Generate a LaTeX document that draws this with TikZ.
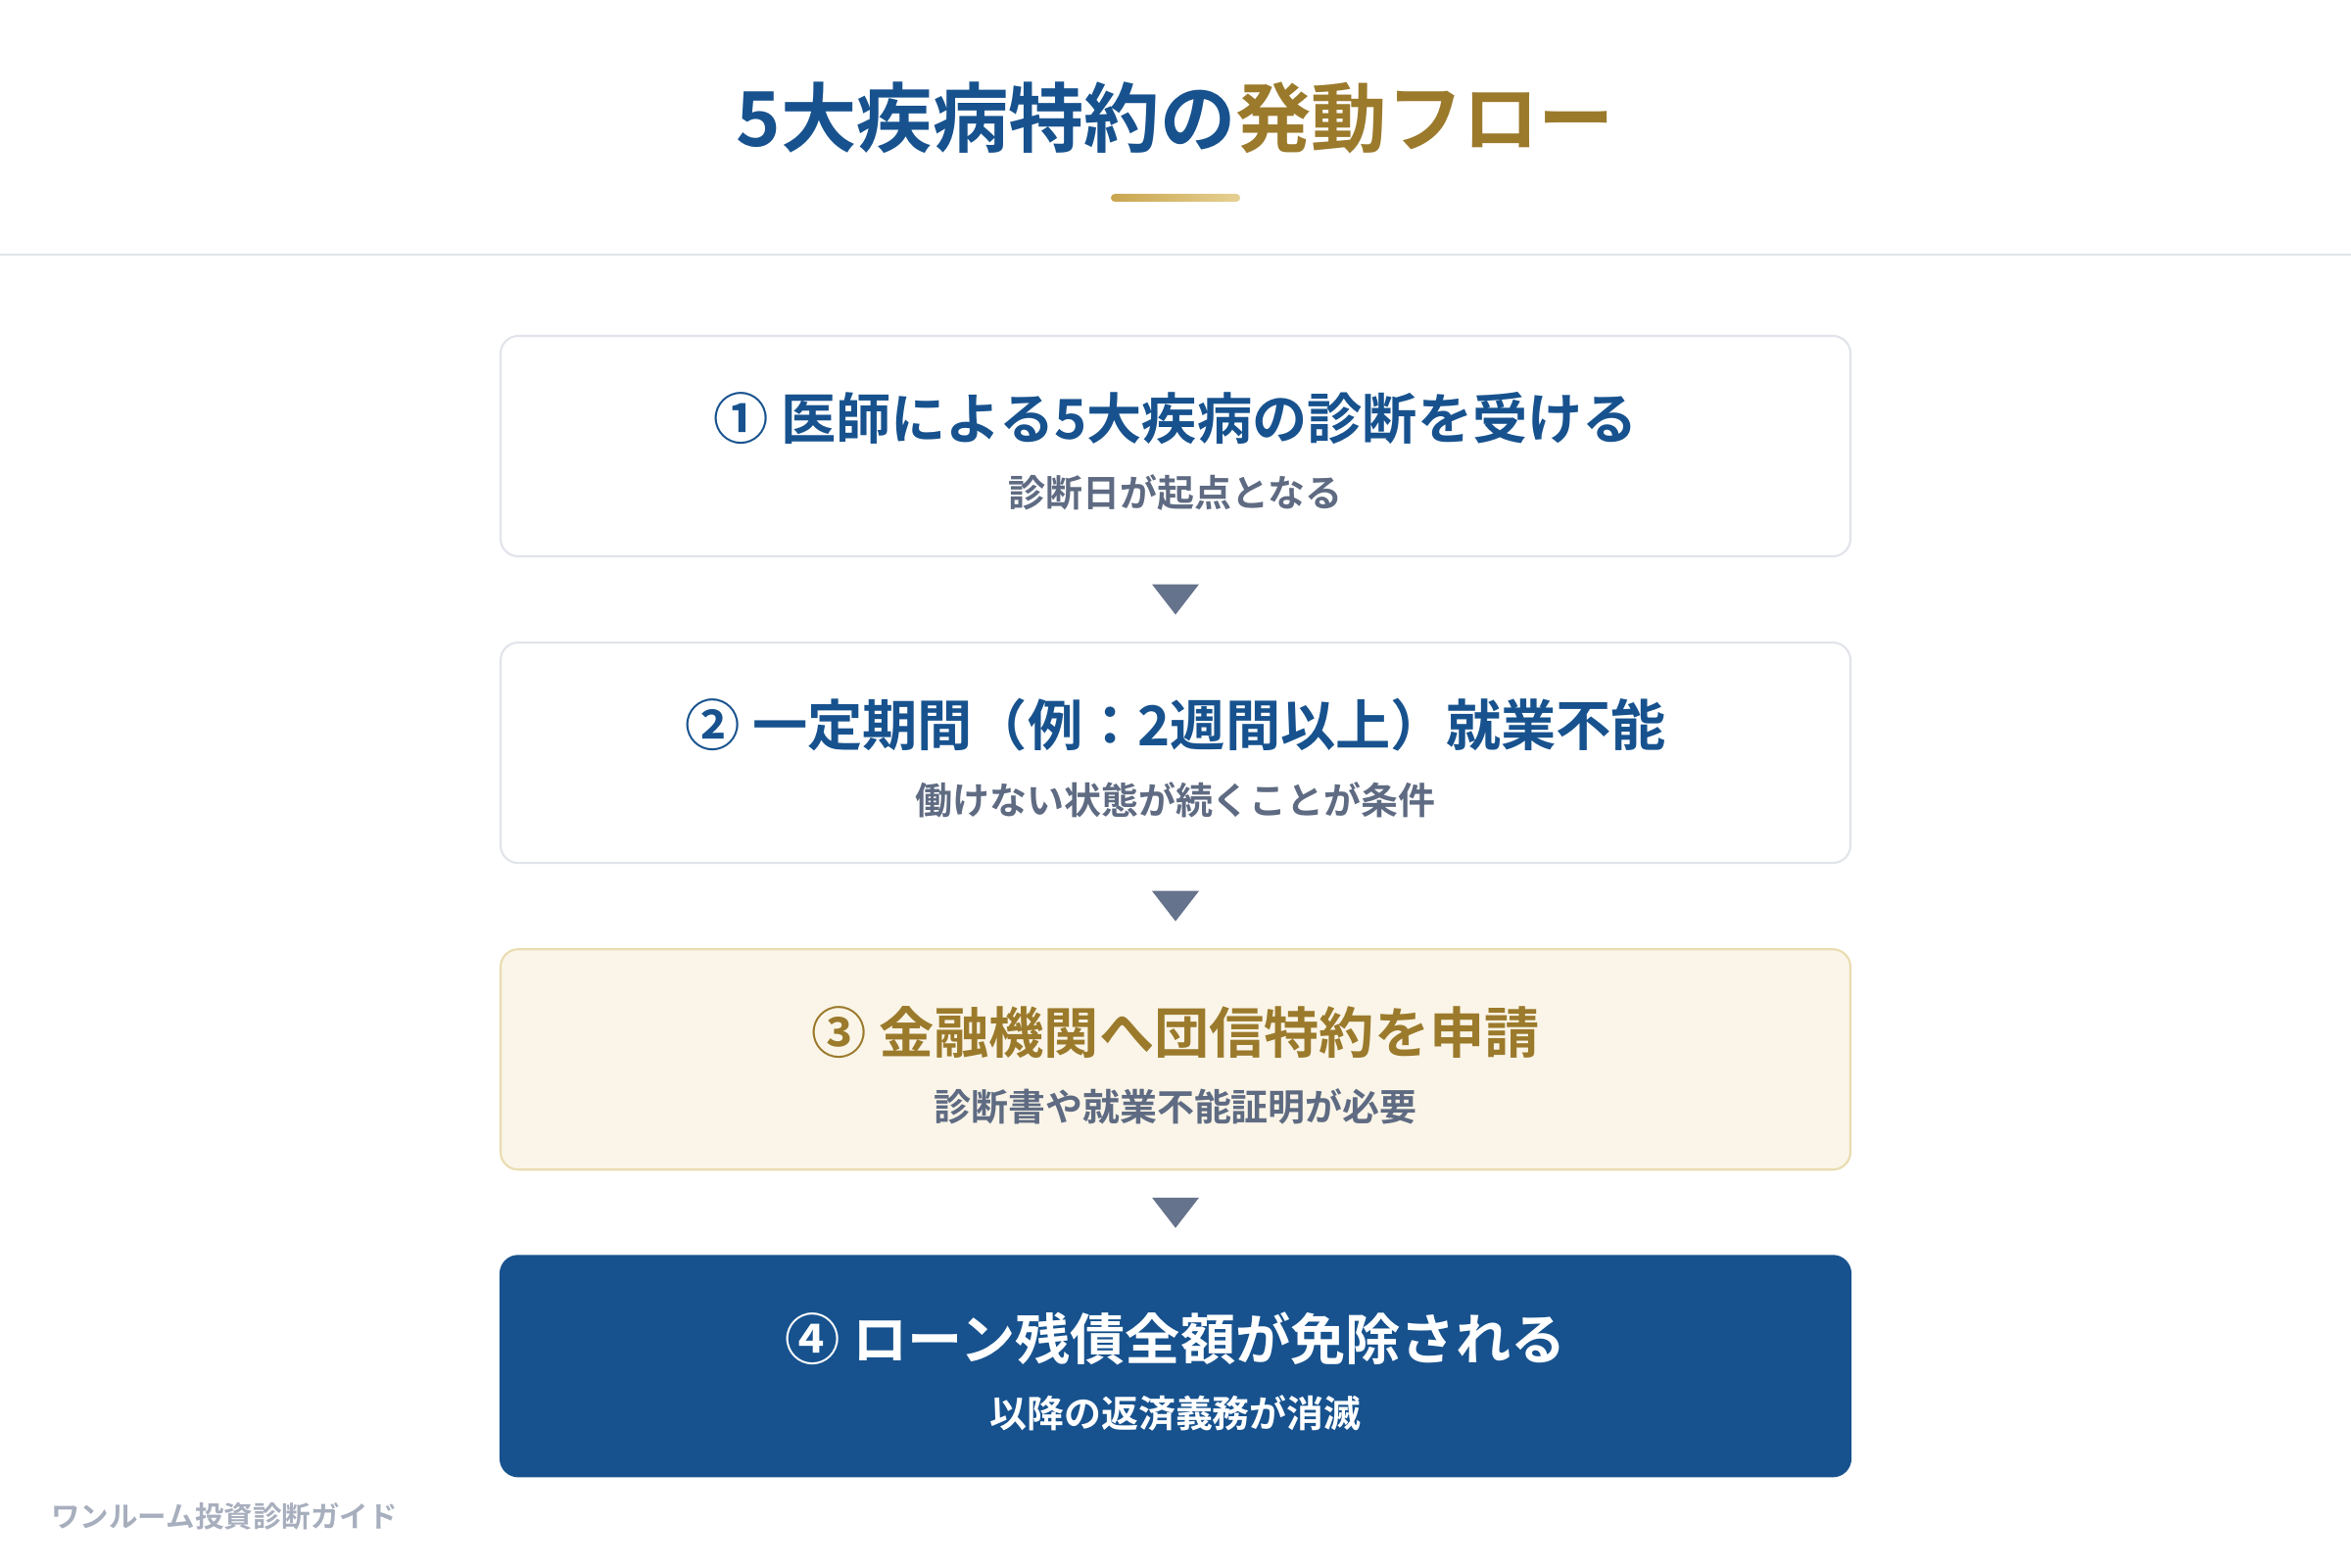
\documentclass[tikz,border=0pt]{standalone}
\usepackage{fontspec}
\setmainfont{Noto Sans CJK JP}[BoldFont={Noto Sans CJK JP Bold}]
\usetikzlibrary{positioning,calc}

\definecolor{navy}{HTML}{17528E}
\definecolor{gold}{HTML}{9B7A2C}
\definecolor{goldA}{HTML}{C9A64F}
\definecolor{goldB}{HTML}{E6D092}
\definecolor{subgray}{HTML}{5F6B82}
\definecolor{arrowgray}{HTML}{66738C}
\definecolor{boxline}{HTML}{E1E4EA}
\definecolor{cream}{HTML}{FAF5E8}
\definecolor{creamline}{HTML}{E9DCB0}
\definecolor{footgray}{HTML}{A7AEBD}

\begin{document}
\begin{tikzpicture}[
  box/.style={draw=boxline, line width=0.6pt, fill=white, rounded corners=0.18cm,
    minimum width=13.78cm, minimum height=2.25cm},
  head/.style={font=\bfseries\fontsize{16}{19}\selectfont, text=navy},
  note/.style={font=\bfseries\fontsize{10.8}{13}\selectfont, text=subgray},
  tri/.style={fill=arrowgray}]
\useasboundingbox (0,0) rectangle (24,-16);
\fill[white] (0,0) rectangle (24,-16);

% title and rule
\node[font=\bfseries\fontsize{22}{26}\selectfont] (title) at (12,-1.2)
  {\textcolor{navy}{5大疾病特約の}\textcolor{gold}{発動フロー}};
\shade[left color=goldA, right color=goldB, rounded corners=0.04cm]
  (11.34,-1.98) rectangle (12.66,-2.06);
\draw[boxline, line width=0.6pt] (0,-2.6) -- (24,-2.6);

% steps
\node[box] (s1) at (12,-4.555) {};
\node[box, below=0.86cm of s1] (s2) {};
\node[box, fill=cream, draw=creamline, below=0.86cm of s2] (s3) {};
\node[box, fill=navy, draw=navy, below=0.86cm of s3] (s4) {};

\node[head] (h1) at ([yshift=0.28cm]s1.center) {① 医師による5大疾病の診断を受ける};
\node[note] (n1) at ([yshift=-0.48cm]s1.center) {診断日が起点となる};
\node[head] (h2) at ([yshift=0.28cm]s2.center) {② 一定期間（例：2週間以上）就業不能};
\node[note] (n2) at ([yshift=-0.48cm]s2.center) {働けない状態が続くことが条件};
\node[head, text=gold] (h3) at ([yshift=0.28cm]s3.center) {③ 金融機関へ団信特約を申請};
\node[note] (n3) at ([yshift=-0.48cm]s3.center) {診断書や就業不能証明が必要};
\node[head, text=white] (h4) at ([yshift=0.28cm]s4.center) {④ ローン残債全額が免除される};
\node[note, text=white] (n4) at ([yshift=-0.48cm]s4.center) {以降の返済義務が消滅};

% arrows between steps
\foreach \a/\b in {s1/s2, s2/s3, s3/s4} {
  \coordinate (m\a) at ($(\a.south)!0.5!(\b.north)$);
  \fill[tri] ([xshift=-0.24cm, yshift=0.155cm]m\a) -- ([xshift=0.24cm, yshift=0.155cm]m\a)
    -- ([yshift=-0.155cm]m\a) -- cycle;
}

% footer
\node[anchor=west, font=\bfseries\fontsize{8.4}{10}\selectfont, text=footgray] (foot)
  at (0.4,-15.48) {ワンルーム投資診断ガイド};
\end{tikzpicture}
\end{document}
